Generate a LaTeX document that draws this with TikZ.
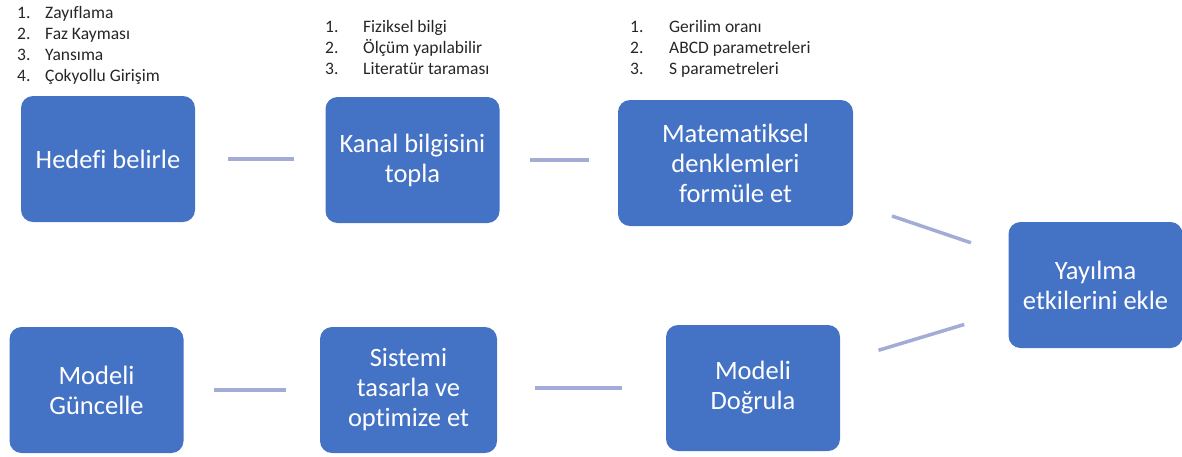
\documentclass[tikz,border=0pt]{standalone}
\usepackage{fontspec}
\setmainfont{Carlito}[Ligatures={NoCommon}]
\usepackage{xcolor}
\usepackage{tikz}
\usetikzlibrary{positioning,calc}

\definecolor{boxblue}{HTML}{4472C4}
\definecolor{linkblue}{HTML}{A2ACD6}

\begin{document}
\begin{tikzpicture}[
    x=1pt, y=-1pt,
    box/.style={fill=boxblue, rounded corners=12pt, minimum width=174pt, minimum height=126pt,
        inner sep=0pt, text=white, align=center, font=\fontsize{26.5}{30}\selectfont},
    link/.style={draw=linkblue, line width=3.5pt},
    note/.style={anchor=base west, inner sep=0pt, text=black!85, font=\fontsize{17.5}{21.3}\selectfont}
]
\useasboundingbox (0,0) rectangle (1182,456);

% Boxes
\node[box] (goal) at (108,159) {Hedefi belirle};
\node[box] (channel) at (412.5,160) {Kanal bilgisini\\topla};
\node[box, minimum width=235pt] (equations) at (735.5,163) {Matematiksel\\denklemleri\\formüle et};
\node[box] (propagation) at (1095.5,285) {Yayılma\\etkilerini ekle};
\node[box] (validate) at (753,388) {Modeli\\Doğrula};
\node[box, minimum width=177pt] (design) at (408.5,390) {Sistemi\\tasarla ve\\optimize et};
\node[box] (update) at (96.5,390) {Modeli\\Güncelle};

% Links
\draw[link, shorten <=33pt, shorten >=31pt] (goal.east) -- (goal.east -| channel.west);
\draw[link, shorten <=30pt, shorten >=29pt] (channel.east) -- (channel.east -| equations.west);
\draw[link, shorten <=41pt, shorten >=39.5pt] (equations) -- (propagation);
\draw[link, shorten <=46pt, shorten >=40pt] (propagation) -- (validate);
\draw[link, shorten <=44pt, shorten >=38pt] (validate.west) -- (validate.west -| design.east);
\draw[link, shorten <=34pt, shorten >=30pt] (design.west) -- (design.west -| update.east);

% Lists
\node[note] (goallist) at (17,18) {\begin{tabular}[t]{@{}p{28pt}@{}l@{}}
1. & Zayıflama\\
2. & Faz Kayması\\
3. & Yansıma\\
4. & Çokyollu Girişim
\end{tabular}};
\node[note] (channellist) at (325,32) {\begin{tabular}[t]{@{}p{38pt}@{}l@{}}
1. & Fiziksel bilgi\\
2. & Ölçüm yapılabilir\\
3. & Literatür taraması
\end{tabular}};
\node[note] (eqlist) at (630,32) {\begin{tabular}[t]{@{}p{39pt}@{}l@{}}
1. & Gerilim oranı\\
2. & ABCD parametreleri\\
3. & S parametreleri
\end{tabular}};

\end{tikzpicture}
\end{document}
